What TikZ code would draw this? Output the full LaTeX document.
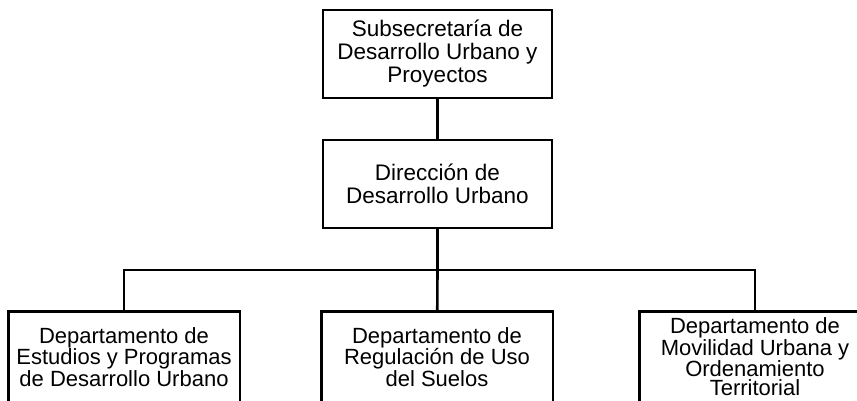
\documentclass[tikz,border=0pt]{standalone}
\usepackage{fontspec}
\setmainfont{Liberation Sans}
\tikzset{
    unit/.style={draw, line width=2.6pt, minimum width=229pt, minimum height=88pt, align=center, inner sep=0pt, font=\fontsize{22.5}{23}\selectfont},
    dept/.style={unit, draw=none, font=\fontsize{22}{19}\selectfont},
    link/.style={line width=2.6pt}
}
\begin{document}
\begin{tikzpicture}[x=1pt, y=-1pt]
    \useasboundingbox (0, 0) rectangle (857, 401);
    \clip (0, 0) rectangle (857, 401);
    \node[unit] (sub) at (437.5, 54) {Subsecretaría de\\Desarrollo Urbano y\\Proyectos};
    \node[unit] (dir) at (437.5, 184) {Dirección de\\Desarrollo Urbano};

    % bottom row runs off the page
    \node[dept] (est) at (124, 357) {Departamento de\\Estudios y Programas\\de Desarrollo Urbano};
    \node[dept] (reg) at (437, 357) {Departamento de\\Regulación de Uso\\del Suelos};
    \node[dept] (mov) at (755, 357) {Departamento de\\Movilidad Urbana y\\Ordenamiento\\Territorial};
    \foreach \d in {est, reg, mov}
        \draw[link] (\d.north west) rectangle ([yshift=-20pt]\d.south east);

    \coordinate (bar) at (437.5, 270);
    \draw[link] (sub) -- (dir);
    \draw[link] (dir) -- (bar);
    \draw[link] (bar) -| (est);
    \draw[link] (bar) -| (mov);
    \draw[link] (bar) -- (reg);
\end{tikzpicture}
\end{document}
